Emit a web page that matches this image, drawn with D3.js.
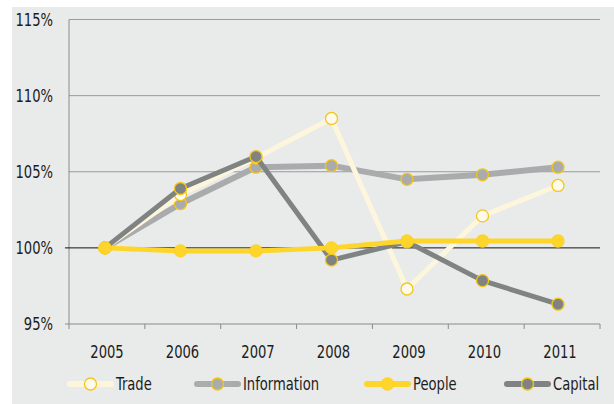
<!DOCTYPE html>
<html><head><meta charset="utf-8">
<script src="https://cdn.jsdelivr.net/npm/d3@7"></script>
<style>html,body{margin:0;padding:0;background:#fff;}svg{display:block;}</style>
</head><body>
<svg id="c" width="614" height="404"></svg>
<script>
const years = ["2005","2006","2007","2008","2009","2010","2011"];
const trade = [100, 103.5, 105.9, 108.5, 97.3, 102.1, 104.1];
const information = [100, 102.9, 105.3, 105.4, 104.5, 104.8, 105.3];
const people = [100, 99.8, 99.8, 100.0, 100.45, 100.45, 100.45];
const capital = [100, 103.9, 106.0, 99.2, 100.4, 97.85, 96.3];
const yTicks = [95, 100, 105, 110, 115];
const seriesNames = ["Trade", "Information", "People", "Capital"];

const FONT = "'DejaVu Sans Condensed','DejaVu Sans',sans-serif";
const FS = 17, SX = 0.86, TXT = "#1c1c1c";
const svg = d3.select("#c");
svg.append("rect").attr("x",12).attr("y",7).attr("width",602).attr("height",397).attr("fill","#e9ebea");

function label(parent, x, yy, str, anchor){
  parent.append("g").attr("transform",`translate(${x},${yy}) scale(${SX},1)`)
    .append("text").attr("dy","0.36em").attr("text-anchor",anchor)
    .attr("font-family",FONT).attr("font-size",FS).attr("fill",TXT).text(str);
}

const x0 = 69, x1 = 600;
const y = d3.scaleLinear().domain([95,115]).range([324,19.5]);
const xBand = d3.scaleBand().domain(years).range([x0,x1]);
const xp = d3.scalePoint().domain(years).range([105,558]);

const g = svg.append("g");
g.selectAll("line.grid").data(yTicks.filter(v=>v!==100 && v!==95)).enter().append("line")
  .attr("x1",x0).attr("x2",x1).attr("y1",d=>y(d)).attr("y2",d=>y(d))
  .attr("stroke","#9a9a9a").attr("stroke-width",1);
g.append("line").attr("x1",x0).attr("x2",x0).attr("y1",y(115)).attr("y2",y(95)).attr("stroke","#8a8a8a");
g.append("line").attr("x1",x0-4).attr("x2",x1).attr("y1",y(95)).attr("y2",y(95)).attr("stroke","#8a8a8a");
g.selectAll("line.xt").data(years.concat(["end"])).enter().append("line")
  .attr("x1",(d,i)=>x0+i*xBand.step()).attr("x2",(d,i)=>x0+i*xBand.step())
  .attr("y1",y(95)).attr("y2",y(95)+5).attr("stroke","#8a8a8a");
yTicks.forEach(v=>label(g, 53, y(v), v+"%", "end"));
years.forEach(yr=>label(g, xp(yr)+2, 352, yr, "middle"));
g.append("line").attr("x1",x0-4).attr("x2",x1).attr("y1",y(100)).attr("y2",y(100))
  .attr("stroke","#111").attr("stroke-width",1);

const styles = {
  Trade: {values: trade, line:"#fdf6dc", fill:"#fffbea", w:5},
  Information: {values: information, line:"#a9abad", fill:"#a9abad", w:6},
  People: {values: people, line:"#fed52b", fill:"#fed52b", w:5},
  Capital: {values: capital, line:"#7f8483", fill:"#7f8483", w:5}
};
const mStroke = "#f5c518";
const line = d3.line().x((d,i)=>xp(years[i])).y(d=>y(d));
const order = ["Information","Trade","Capital","People"];
order.forEach(name=>{
  const s = styles[name];
  const gg = svg.append("g");
  gg.append("path").datum(s.values).attr("d",line).attr("fill","none")
    .attr("stroke",s.line).attr("stroke-width",s.w).attr("stroke-linejoin","round");
  gg.selectAll("circle").data(s.values).enter().append("circle")
    .attr("cx",(d,i)=>xp(years[i])).attr("cy",d=>y(d)).attr("r",6)
    .attr("fill",s.fill).attr("stroke",name==="People"?"#fdd22a":mStroke).attr("stroke-width",1.3);
});

const legX = [70, 197, 367, 507];
const lg = svg.append("g");
seriesNames.forEach((name,i)=>{
  const s = styles[name];
  const lx = legX[i], ly = 384;
  lg.append("line").attr("x1",lx).attr("x2",lx+41).attr("y1",ly).attr("y2",ly)
    .attr("stroke",s.line).attr("stroke-width",6).attr("stroke-linecap","round");
  lg.append("circle").attr("cx",lx+20.5).attr("cy",ly).attr("r",6)
    .attr("fill",s.fill).attr("stroke",name==="People"?"#fdd22a":mStroke).attr("stroke-width",1.3);
  label(lg, lx+46, ly, name, "start");
});
</script>
</body></html>
